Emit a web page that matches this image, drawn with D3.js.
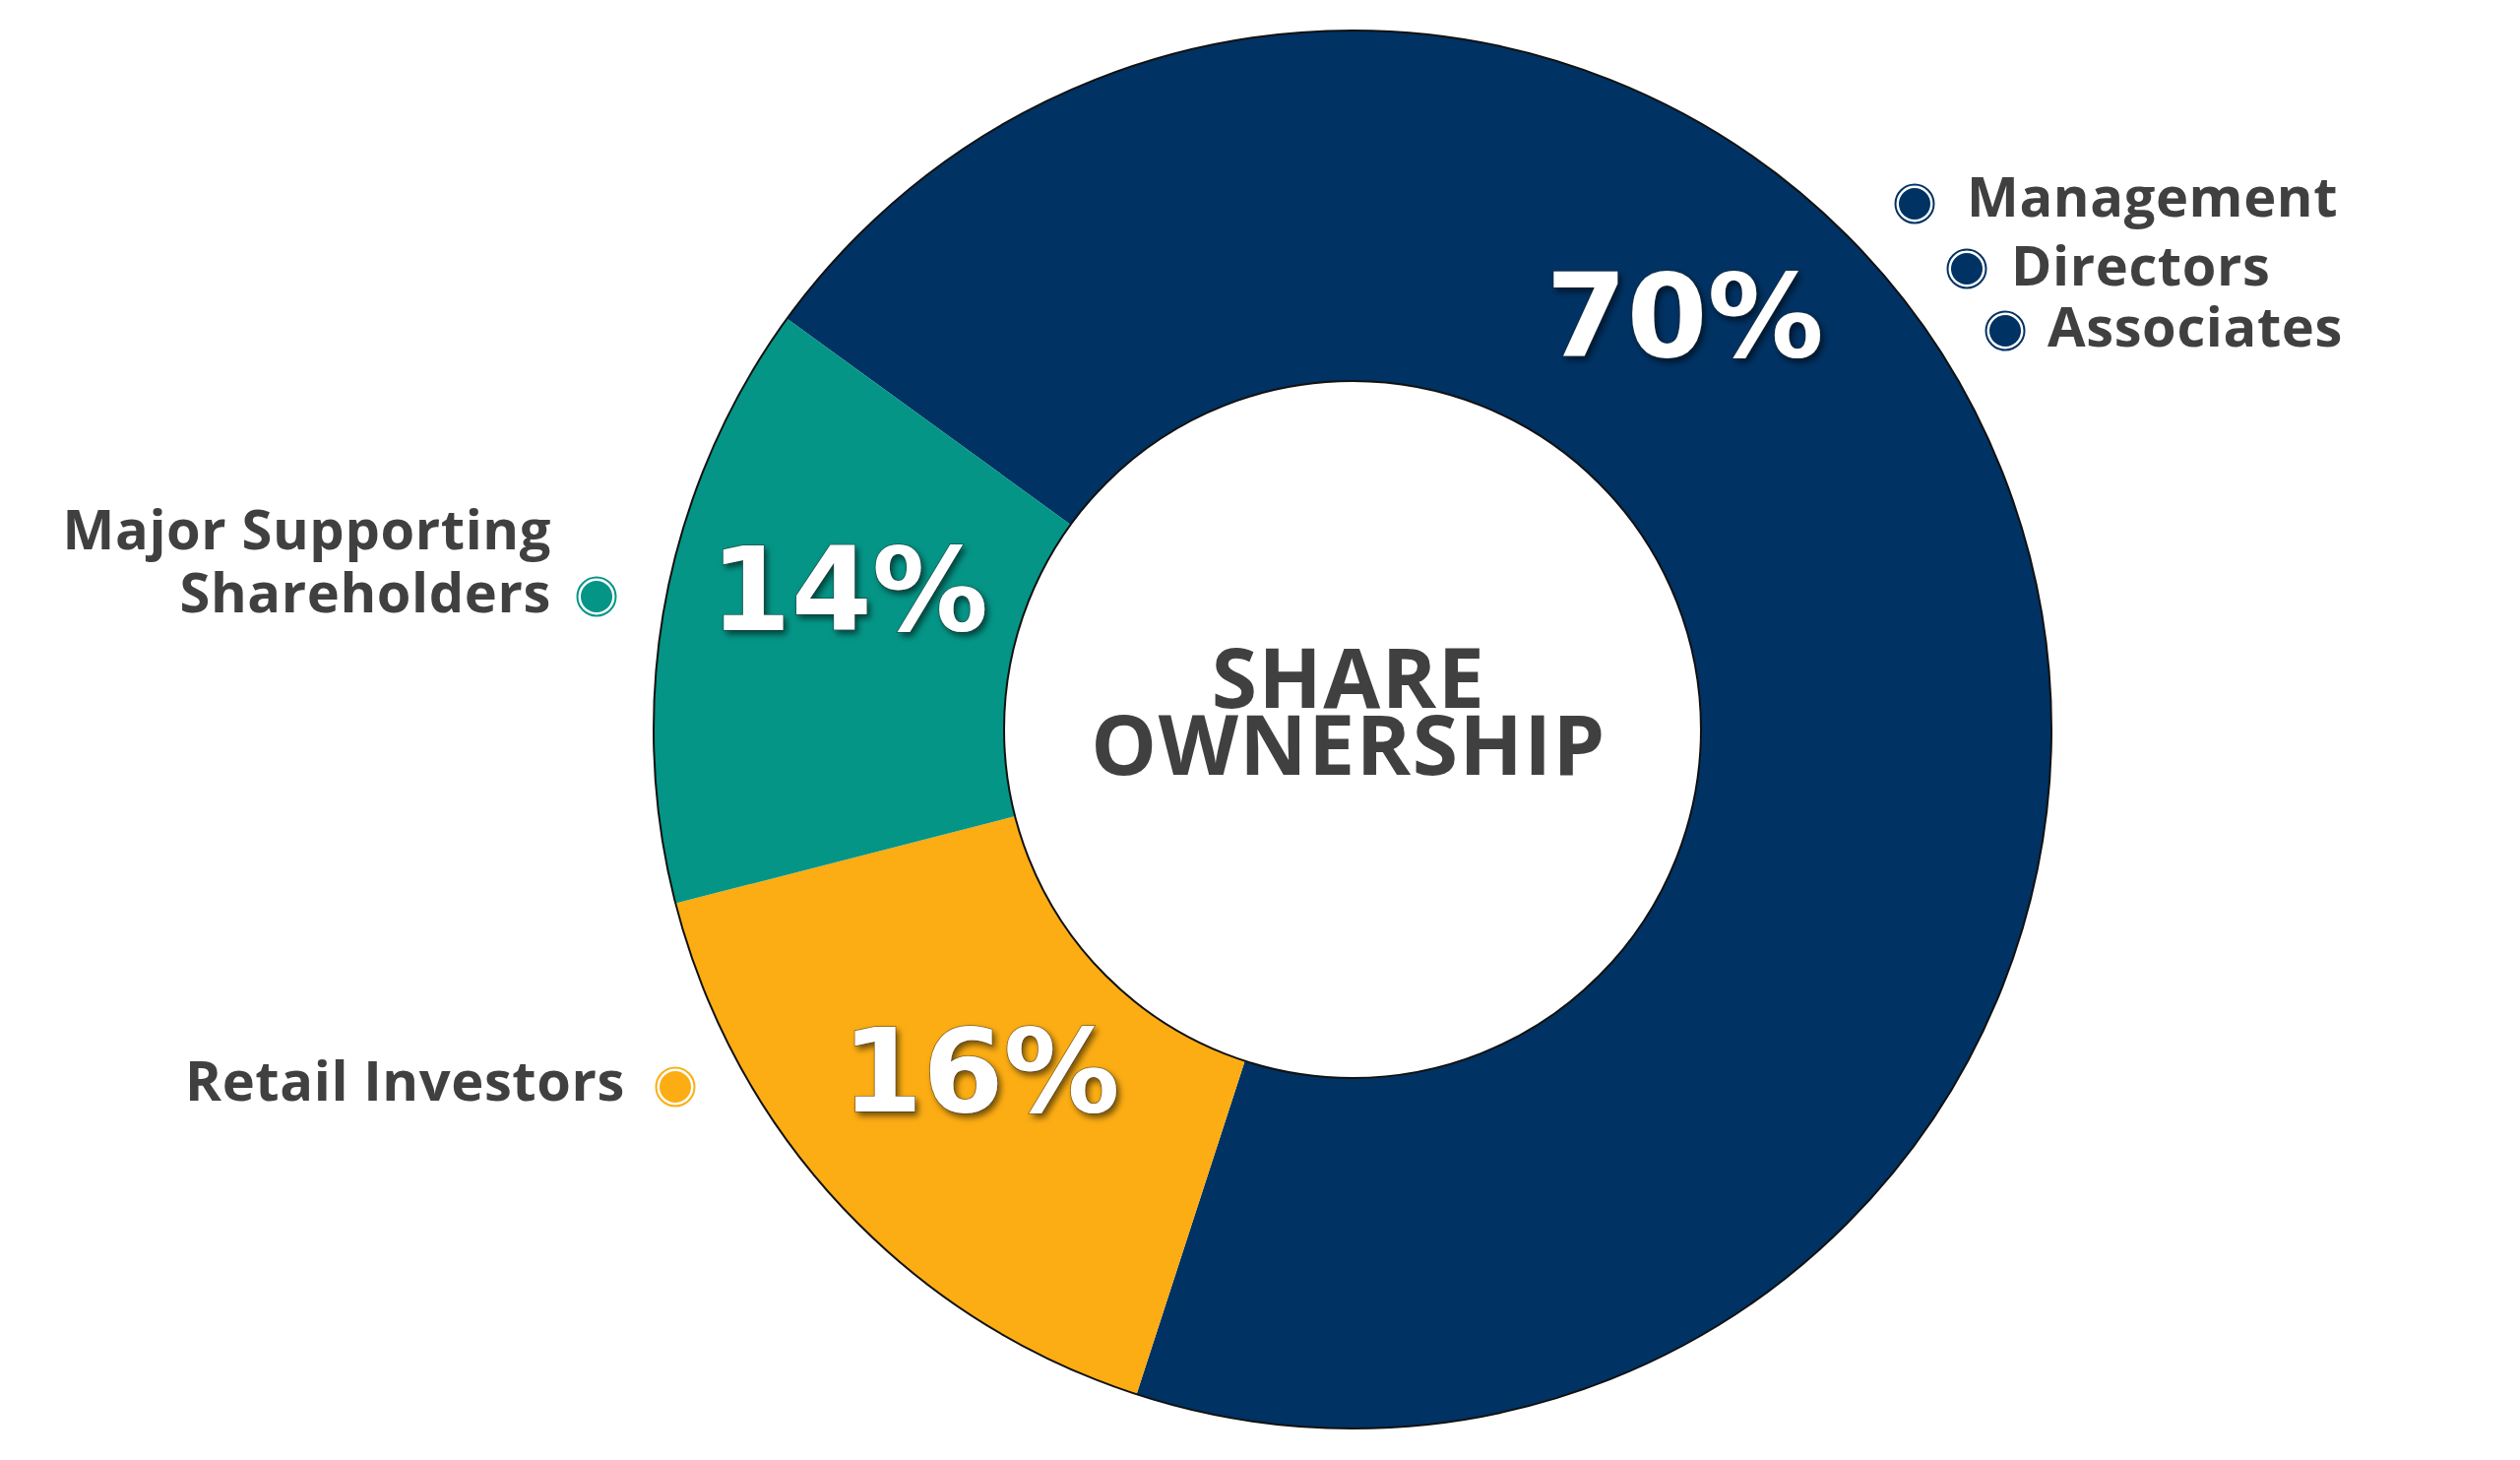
<!doctype html>
<html lang="en">
    <head>
        <meta charset="utf-8">
        <title>Share ownership</title>
        <script src="https://d3js.org/d3.v7.min.js"></script>
        <style>
            html, body { margin: 0; padding: 0; background: #fff; }
            svg { display: block; }
        </style>
    </head>
    <body>
        <div id="viz"></div>
<script>

// chart data
const categories = ["Management / Directors / Associates", "Retail Investors", "Major Supporting Shareholders"];
const shares = [70, 16, 14];
const pctLabels = ["70%", "16%", "14%"];
const colors = ["#003263", "#fcad13", "#049586"];

// legend text lines per slice
const legendLines = [
    ["Management", "Directors", "Associates"],
    ["Retail Investors"],
    ["Major Supporting", "Shareholders"]
];

const width = 2560, height = 1483;
const cx = 1374, cy = 741;
const outerR = 710, innerR = 354;

const svg = d3.select("#viz")
    .append("svg")
    .attr("width", width)
    .attr("height", height);

const defs = svg.append("defs");
const shadow = defs.append("filter")
    .attr("id", "txtshadow")
    .attr("x", "-20%").attr("y", "-20%")
    .attr("width", "140%").attr("height", "150%");
shadow.append("feDropShadow")
    .attr("dx", 3).attr("dy", 4)
    .attr("stdDeviation", 3)
    .attr("flood-color", "#000")
    .attr("flood-opacity", 0.55);

const pie = d3.pie()
    .sort(null)
    .startAngle(-0.3 * Math.PI)
    .endAngle(1.7 * Math.PI);

const arc = d3.arc()
    .innerRadius(innerR)
    .outerRadius(outerR);

const arcs = pie(shares);

const g = svg.append("g")
    .attr("transform", `translate(${cx},${cy})`);

g.selectAll("path.slice")
    .data(arcs)
    .join("path")
    .attr("class", "slice")
    .attr("fill", (d, i) => colors[i])
    .attr("d", arc);

// thin outline on the ring edges only
g.selectAll("circle.edge")
    .data([outerR, innerR])
    .join("circle")
    .attr("class", "edge")
    .attr("r", d => d)
    .attr("fill", "none")
    .attr("stroke", "#111")
    .attr("stroke-width", 2);

// percentage labels (angle in degrees from 12 o'clock, radius)
const labelPos = [[38.7, 540], [227.5, 512], [285.7, 531]];

g.selectAll("text.pct")
    .data(arcs)
    .join("text")
    .attr("class", "pct")
    .attr("x", (d, i) => labelPos[i][1] * Math.sin(labelPos[i][0] * Math.PI / 180))
    .attr("y", (d, i) => -labelPos[i][1] * Math.cos(labelPos[i][0] * Math.PI / 180))
    .attr("dy", "0.36em")
    .attr("text-anchor", "middle")
    .attr("font-family", "'DejaVu Sans', Verdana, sans-serif")
    .attr("font-weight", "bold")
    .attr("font-size", 118)
    .attr("fill", "#fff")
    .attr("stroke", "rgba(40,40,40,0.55)")
    .attr("stroke-width", 1.5)
    .attr("paint-order", "stroke")
    .attr("filter", "url(#txtshadow)")
    .text((d, i) => pctLabels[i]);

// centre title
const title = g.append("text")
    .attr("text-anchor", "middle")
    .attr("font-family", "'Open Sans', sans-serif")
    .attr("font-weight", "bold")
    .attr("font-size", 84)
    .attr("letter-spacing", 1.5)
    .attr("fill", "#404040");
title.append("tspan").attr("x", -4).attr("y", -22).text("SHARE");
title.append("tspan").attr("x", -4).attr("y", 46).text("OWNERSHIP");

// legend: one item per text line, dot beside it
const legendItems = [
    {slice: 0, line: 0, x: 1998, y: 220, dot: [1945, 207], anchor: "start"},
    {slice: 0, line: 1, x: 2043, y: 290, dot: [1998, 273], anchor: "start"},
    {slice: 0, line: 2, x: 2080, y: 352, dot: [2037, 336], anchor: "start"},
    {slice: 2, line: 0, x: 560, y: 558, dot: null, anchor: "end"},
    {slice: 2, line: 1, x: 560, y: 622, dot: [606, 606], anchor: "end"},
    {slice: 1, line: 0, x: 635, y: 1118, dot: [686, 1104], anchor: "end"}
];

const legend = svg.append("g");

legend.selectAll("text")
    .data(legendItems)
    .join("text")
    .attr("x", d => d.x)
    .attr("y", d => d.y)
    .attr("text-anchor", d => d.anchor)
    .attr("font-family", "'Open Sans', sans-serif")
    .attr("font-weight", "bold")
    .attr("font-size", 56)
    .attr("letter-spacing", 0.6)
    .attr("fill", "#404040")
    .text(d => legendLines[d.slice][d.line]);

const dots = legend.selectAll("g.dot")
    .data(legendItems.filter(d => d.dot))
    .join("g")
    .attr("class", "dot")
    .attr("transform", d => `translate(${d.dot[0]},${d.dot[1]})`);

dots.append("circle")
    .attr("r", 19.5)
    .attr("fill", "#fff")
    .attr("stroke", d => colors[d.slice])
    .attr("stroke-width", 2);

dots.append("circle")
    .attr("r", 16)
    .attr("fill", d => colors[d.slice]);

        </script>
    </body>
</html>
